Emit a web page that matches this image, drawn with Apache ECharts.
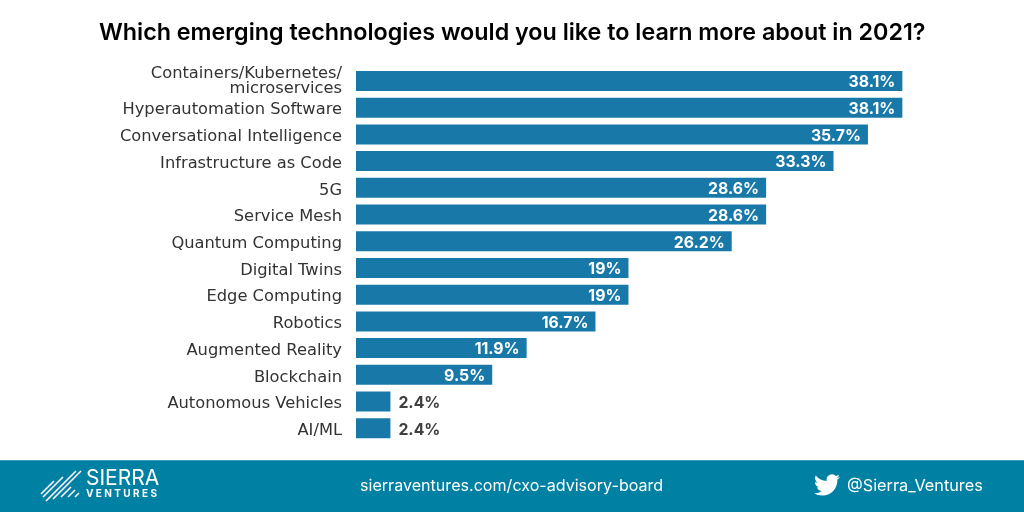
<!DOCTYPE html>
<html><head><meta charset="utf-8">
<style>html,body{margin:0;padding:0;background:#fff}#c{width:1024px;height:512px}</style>
<script src="https://cdn.jsdelivr.net/npm/echarts@6/dist/echarts.min.js"></script>
</head><body><div id="c"></div>
<script>
const categories = ["Containers/Kubernetes/\nmicroservices","Hyperautomation Software","Conversational Intelligence","Infrastructure as Code","5G","Service Mesh","Quantum Computing","Digital Twins","Edge Computing","Robotics","Augmented Reality","Blockchain","Autonomous Vehicles","AI/ML"];
const values = [38.1,38.1,35.7,33.3,28.6,28.6,26.2,19,19,16.7,11.9,9.5,2.4,2.4];
const titleText = "Which emerging technologies would you like to learn more about in 2021?";
const footerUrl = "sierraventures.com/cxo-advisory-board";
const footerHandle = "@Sierra_Ventures";
const FONT = "Inter, 'Open Sans', sans-serif";
const twitter = "M23.953 4.57a10 10 0 01-2.825.775 4.958 4.958 0 002.163-2.723c-.951.555-2.005.959-3.127 1.184a4.92 4.92 0 00-8.384 4.482C7.69 8.095 4.067 6.13 1.64 3.162a4.822 4.822 0 00-.666 2.475c0 1.71.87 3.213 2.188 4.096a4.904 4.904 0 01-2.228-.616v.06a4.923 4.923 0 003.946 4.827 4.996 4.996 0 01-2.212.085 4.936 4.936 0 004.604 3.417 9.867 9.867 0 01-6.102 2.105c-.39 0-.779-.023-1.17-.067a13.995 13.995 0 007.557 2.209c9.053 0 13.998-7.496 13.998-13.985 0-.21 0-.42-.015-.63A9.935 9.935 0 0024 4.59z";
const twitterSvg = "data:image/svg+xml;utf8," + encodeURIComponent('<svg xmlns="http://www.w3.org/2000/svg" width="26" height="26" viewBox="0 0 24 24"><path fill="#fff" d="'+twitter+'"/></svg>');
const stripes = [[41,494,54,481],[43,497,63,477],[46,501,76,471],[53,499,81,471],[61,497,71,487],[68,497,75,490],[75,497,79,493]];
const barData = values.map(v => v < 5 ? {value:v,label:{position:'right',distance:8,color:'#3f3f3f'}} : v);
const catData = categories.map((c,i) => i === 0 ? {value:c,textStyle:{verticalAlign:'middle',lineHeight:15}} : c);
const chart = echarts.init(document.getElementById('c'),null,{renderer:'canvas'});
chart.setOption({
  animation:false,
  backgroundColor:'#fff',
  grid:{left:356,top:67.6,width:573.6,height:374,containLabel:false},
  xAxis:{type:'value',min:0,max:40,show:false},
  yAxis:{type:'category',inverse:true,data:catData,
    axisLine:{show:false},axisTick:{show:false},splitLine:{show:false},
    axisLabel:{margin:14,color:'#333',fontFamily:"'DejaVu Sans'",fontSize:16.3,lineHeight:5,verticalAlign:'top',align:'right',interval:0}},
  series:[
    {type:'bar',data:barData,barWidth:20,itemStyle:{color:'#1879a9'},
     label:{show:true,position:'insideRight',distance:7,offset:[0,1.5],color:'#fff',fontFamily:FONT,fontWeight:700,fontSize:15.8,formatter:p=>p.value+'%'}}
  ],
  graphic:[
    {type:'text',x:99,y:33,style:{text:titleText,font:"600 23.3px "+FONT,fill:'#000',verticalAlign:'middle'}},
    {type:'rect',shape:{x:0,y:460,width:1024,height:52},style:{fill:'#0080a3'}},
    {type:'rect',shape:{x:0,y:460,width:1024,height:1},style:{fill:'#3f9bb8'}},
    ...stripes.map(s=>({type:'line',shape:{x1:s[0],y1:s[1],x2:s[2],y2:s[3]},style:{stroke:'#fff',lineWidth:1.6}})),
    {type:'text',x:86,y:479,style:{text:'SIERRA',font:"400 21px "+FONT,fill:'#fff',verticalAlign:'middle'}},
    {type:'text',x:86,y:494,style:{text:'V E N T U R E S',font:"700 10px "+FONT,fill:'#fff',verticalAlign:'middle'}},
    {type:'text',x:360,y:486,style:{text:footerUrl,font:"400 16.1px "+FONT,fill:'#fff',verticalAlign:'middle'}},
    {type:'image',style:{image:twitterSvg,x:814,y:472,width:26,height:26}},
    {type:'text',x:847,y:486,style:{text:footerHandle,font:"400 16.3px "+FONT,fill:'#fff',verticalAlign:'middle'}}
  ]
});
</script></body></html>
